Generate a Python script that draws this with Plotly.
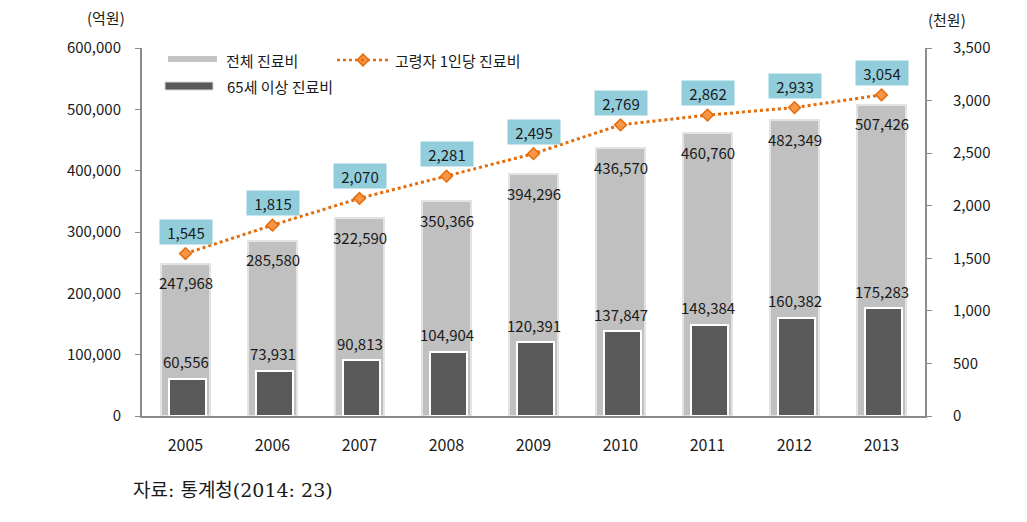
import plotly.graph_objects as go

years = ["2005", "2006", "2007", "2008", "2009", "2010", "2011", "2012", "2013"]
total_cost = [247968, 285580, 322590, 350366, 394296, 436570, 460760, 482349, 507426]
elderly_cost = [60556, 73931, 90813, 104904, 120391, 137847, 148384, 160382, 175283]
per_capita = [1545, 1815, 2070, 2281, 2495, 2769, 2862, 2933, 3054]

left_ticks = [0, 100000, 200000, 300000, 400000, 500000, 600000]
right_ticks = [0, 500, 1000, 1500, 2000, 2500, 3000, 3500]

FONT = "Noto Sans CJK KR"
AXIS_COLOR = "#8C8C8C"
TXT = "#1a1a1a"

W, H = 1027, 522
L, R, T, B = 142, 102, 48, 106
pw, ph = W - L - R, H - T - B


def px(xp):
    return (xp - L) / pw


def py(yp):
    return (H - yp - B) / ph


fig = go.Figure()

fig.add_trace(go.Bar(
    x=years, y=total_cost, name="전체 진료비", width=0.57,
    marker=dict(color="#C0C0C0", line=dict(color="#E3E3E3", width=2)),
    showlegend=False, hoverinfo="skip",
))
fig.add_trace(go.Bar(
    x=years, y=elderly_cost, name="65세 이상 진료비", width=0.42, offset=-0.19,
    marker=dict(color="#5A5A5A", line=dict(color="#FFFFFF", width=2)),
    showlegend=False, hoverinfo="skip",
))
fig.add_trace(go.Scatter(
    x=years, y=per_capita, name="고령자 1인당 진료비", yaxis="y2",
    mode="lines+markers",
    line=dict(color="#E46C0A", width=3, dash="dot"),
    marker=dict(symbol="diamond", size=9, color="#F79646",
                line=dict(color="#E46C0A", width=1.5)),
    showlegend=False, hoverinfo="skip",
))

annotations = []
for i, v in enumerate(total_cost):
    annotations.append(dict(x=i, y=v, xref="x", yref="y", text=f"{v:,}",
                            showarrow=False, yshift=-19, xanchor="center", yanchor="middle",
                            font=dict(family=FONT, size=15, color=TXT)))
for i, v in enumerate(elderly_cost):
    annotations.append(dict(x=i, y=v, xref="x", yref="y", text=f"{v:,}",
                            showarrow=False, yshift=17, xanchor="center", yanchor="middle",
                            font=dict(family=FONT, size=15, color=TXT)))
for i, v in enumerate(per_capita):
    annotations.append(dict(x=i, y=v, xref="x", yref="y2", text=f"{v:,}",
                            showarrow=False, yshift=22, bgcolor="#92CDDC",
                            xanchor="center", yanchor="middle",
                            width=50, height=22, borderpad=1,
                            font=dict(family=FONT, size=15, color=TXT)))


def ptext(x, y, text, anchor="center", size=15, family=FONT):
    annotations.append(dict(x=px(x), y=py(y), xref="paper", yref="paper", text=text,
                            showarrow=False, xanchor=anchor, yanchor="middle",
                            font=dict(family=family, size=size, color=TXT)))


# axis unit titles
ptext(106, 18, "(억원)")
ptext(947, 19, "(천원)")
# legend texts
ptext(224, 60, "전체 진료비", "left")
ptext(225, 87, "65세 이상 진료비", "left")
ptext(393, 60, "고령자 1인당 진료비", "left")
# source
ptext(131, 490, "자료: 통계청(2014: 23)", "left", size=19,
      family="DejaVu Serif, Noto Sans CJK KR")

shapes = [
    dict(type="rect", xref="paper", yref="paper", x0=px(168), x1=px(217), y0=py(62), y1=py(56),
         fillcolor="#C4C4C4", line=dict(width=0)),
    dict(type="rect", xref="paper", yref="paper", x0=px(165), x1=px(213), y0=py(90), y1=py(82),
         fillcolor="#595959", line=dict(color="#D9D9D9", width=1)),
    dict(type="line", xref="paper", yref="paper", x0=px(337), x1=px(389), y0=py(60), y1=py(60),
         line=dict(color="#E46C0A", width=2.5, dash="dot")),
]

fig.add_trace(go.Scatter(
    x=[px(363)], y=[py(60)], xaxis="x3", yaxis="y3", mode="markers",
    marker=dict(symbol="diamond", size=9, color="#F79646", line=dict(color="#E46C0A", width=1.5)),
    showlegend=False, hoverinfo="skip", cliponaxis=False,
))

fig.update_layout(
    width=W, height=H,
    margin=dict(l=L, r=R, t=T, b=B, pad=0),
    paper_bgcolor="white", plot_bgcolor="white",
    barmode="overlay", bargap=0,
    font=dict(family=FONT, size=15, color=TXT),
    xaxis=dict(type="category", showgrid=False, zeroline=False, showline=True,
               linecolor=AXIS_COLOR, linewidth=2, ticks="", ticklabelstandoff=14,
               tickfont=dict(family=FONT, size=16, color=TXT), range=[-0.5, 8.5]),
    yaxis=dict(range=[0, 600000], tickvals=left_ticks, ticktext=[f"{v:,}" for v in left_ticks],
               showgrid=False, zeroline=False, showline=True, linecolor=AXIS_COLOR, linewidth=2,
               ticks="outside", ticklen=5, tickcolor=AXIS_COLOR, ticklabelstandoff=11,
               tickfont=dict(family=FONT, size=15, color=TXT)),
    yaxis2=dict(range=[0, 3500], tickvals=right_ticks, ticktext=[f"{v:,}" for v in right_ticks],
                overlaying="y", side="right", showgrid=False, zeroline=False, showline=True,
                linecolor=AXIS_COLOR, linewidth=2, ticks="outside", ticklen=5, tickcolor=AXIS_COLOR,
                ticklabelstandoff=18, tickfont=dict(family=FONT, size=15, color=TXT)),
    xaxis3=dict(domain=[0, 1], range=[0, 1], visible=False, overlaying="x"),
    yaxis3=dict(domain=[0, 1], range=[0, 1], visible=False, overlaying="y"),
    annotations=annotations,
    shapes=shapes,
)

fig.write_html("out.html", config={"displayModeBar": False},
               post_script="document.body.style.margin='0';")
